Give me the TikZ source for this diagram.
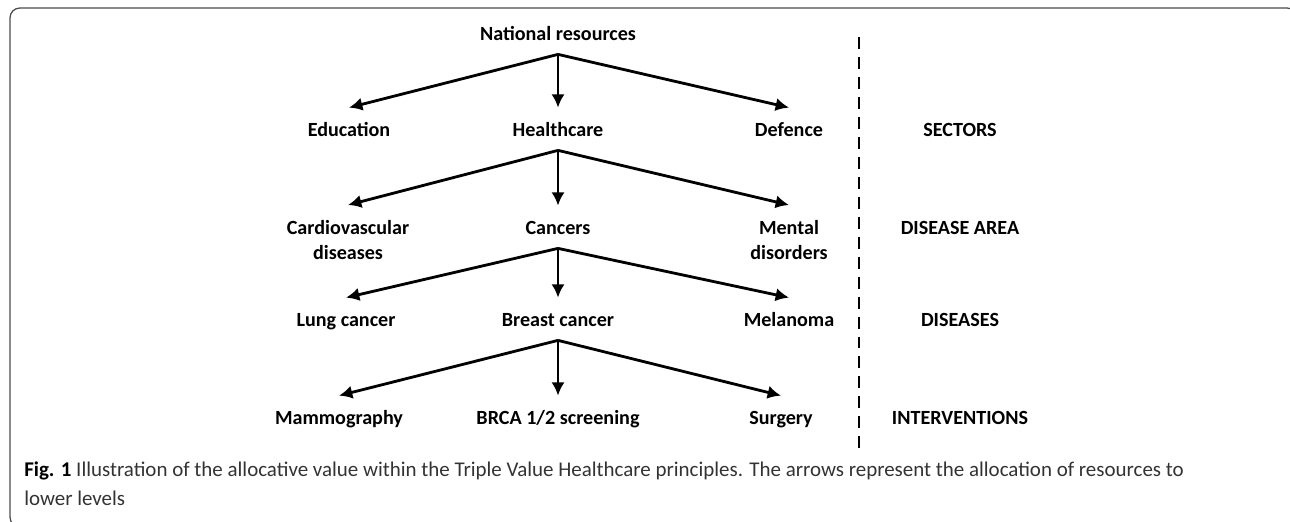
\documentclass[tikz,border=0pt]{standalone}
\usepackage{fontspec}
\setmainfont{Carlito}
\usetikzlibrary{arrows.meta}
\newcommand{\lblfont}{\bfseries\fontsize{14.3}{17.8}\selectfont}
\newcommand{\capfont}{\fontsize{14.9}{20.6}\selectfont}
\begin{document}
\begin{tikzpicture}[x=0.025cm,y=-0.025cm,
  lbl/.style={font=\lblfont,inner xsep=0pt,inner ysep=10pt,text height=10pt,text depth=0pt},
  lbltwo/.style={font=\lblfont,align=center,inner xsep=0pt,inner ysep=11pt,anchor=north},
  alloc/.style={-{Latex[length=9.5pt,width=9.5pt]},line width=2pt}]
\useasboundingbox (0,0) rectangle (1290,521);
\draw[black!70,line width=0.9pt,rounded corners=7pt] (10,8) rectangle (1297,527);
\node[lbl] (nat) at (558,33) {National resources};
\node[lbl] (edu) at (349,129) {Education};
\node[lbl] (hc) at (558,129) {Healthcare};
\node[lbl] (def) at (789,129) {Defence};
\node[lbltwo] (cvd) at (348,205) {Cardiovascular\\diseases};
\node[lbl] (can) at (558,227) {Cancers};
\node[lbltwo] (men) at (789,205) {Mental\\disorders};
\node[lbl] (lung) at (346,319) {Lung cancer};
\node[lbl] (brc) at (558,319) {Breast cancer};
\node[lbl] (mel) at (789,319) {Melanoma};
\node[lbl] (mam) at (339,417) {Mammography};
\node[lbl] (brca) at (558,417) {BRCA 1/2 screening};
\node[lbl] (sur) at (781,417) {Surgery};
\node[lbl] (sect) at (960,129) {SECTORS};
\node[lbl] (area) at (960,227) {DISEASE AREA};
\node[lbl] (dis) at (960,319) {DISEASES};
\node[lbl] (intv) at (960,417) {INTERVENTIONS};
\foreach \p/\c in {nat/edu,nat/hc,nat/def,hc/cvd,hc/can,hc/men,can/lung,can/brc,can/mel,brc/mam,brc/brca,brc/sur}
  \draw[alloc] (\p.south) -- (\c.north);
\draw[line width=2.1pt,dash pattern=on 8.5pt off 5.7pt] (859,37) -- (859,449);
\node[anchor=base west,align=left,inner sep=0pt,font=\capfont,text=black!80] (cap) at (24,505)
  {\textcolor{black}{\textbf{Fig. 1}} Illustration of the allocative value within the Triple Value Healthcare principles. The arrows represent the allocation of resources to\\lower levels};
\end{tikzpicture}
\end{document}
